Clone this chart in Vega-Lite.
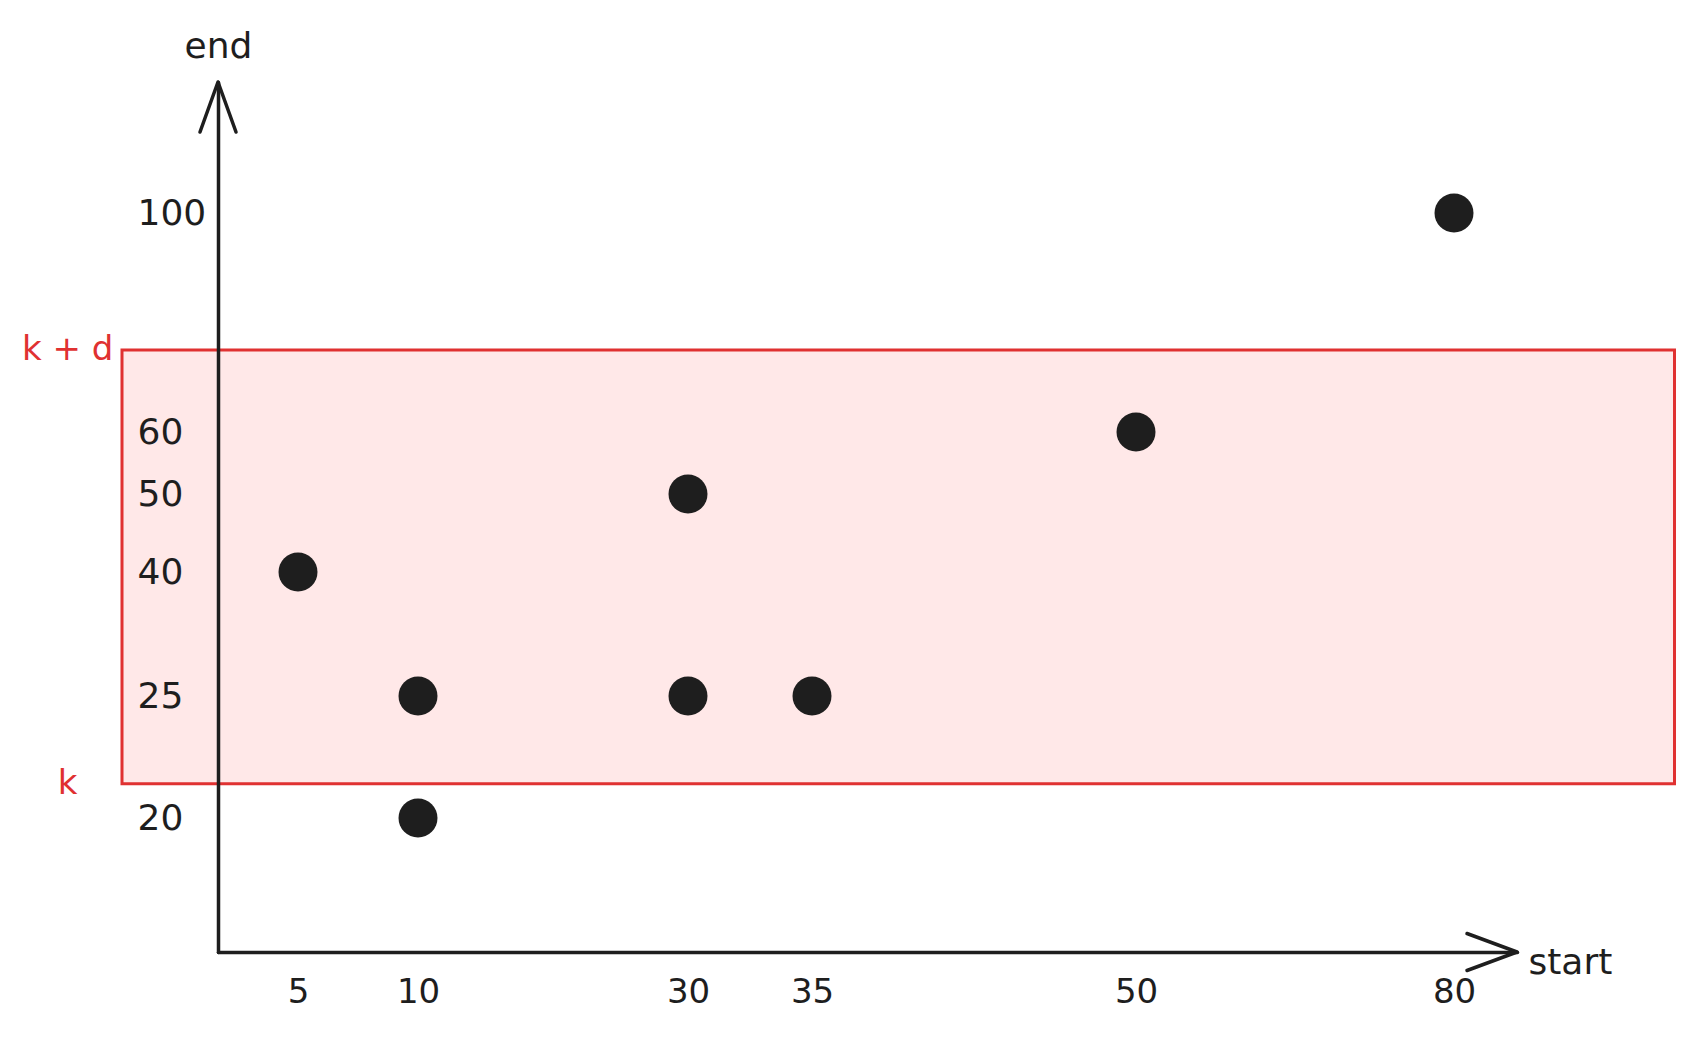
{
  "$schema": "https://vega.github.io/schema/vega-lite/v6.json",
  "width": 1299,
  "height": 870,
  "autosize": {"type": "none"},
  "padding": {"left": 218, "top": 82, "right": 176, "bottom": 88},
  "background": "white",
  "config": {"view": {"stroke": null}, "font": "DejaVu Sans"},
  "encoding": {
    "x": {
      "field": "start",
      "type": "quantitative",
      "scale": {"domain": [0, 5, 10, 30, 35, 50, 80, 86], "range": [0, 80, 200, 470, 594, 918, 1236, 1299], "nice": false, "zero": false, "clamp": false},
      "axis": {
        "values": [5, 10, 30, 35, 50, 80],
        "ticks": false, "tickSize": 0, "grid": false,
        "labelPadding": 40, "labelBaseline": "middle", "labelFontSize": 34, "labelColor": "#1e1e1e",
        "labelOverlap": false, "labelFlush": false, "labelBound": false,
        "title": "start", "titleAngle": 0, "titleX": 1310, "titleY": 10, "titleAlign": "left", "titleBaseline": "middle",
        "titleFontSize": 36, "titleFontWeight": "normal", "titleColor": "#1e1e1e",
        "domainColor": "#1e1e1e", "domainWidth": 3.5, "domainCap": "round", "zindex": 1
      }
    },
    "y": {
      "field": "end",
      "type": "quantitative",
      "scale": {"domain": [0, 20, 25, 40, 50, 60, 100, 120], "range": [870, 736, 614, 490, 412, 350, 131, 0], "nice": false, "zero": false, "clamp": false},
      "axis": {
        "values": [20, 25, 40, 50, 60, 100],
        "ticks": false, "tickSize": 0, "grid": false,
        "labelPadding": 81, "labelAlign": "left", "labelBaseline": "middle", "labelFontSize": 36, "labelColor": "#1e1e1e",
        "labelOverlap": false, "labelFlush": false, "labelBound": false,
        "title": "end", "titleAngle": 0, "titleX": 0, "titleY": -25, "titleAlign": "center", "titleBaseline": "alphabetic",
        "titleFontSize": 36, "titleFontWeight": "normal", "titleColor": "#1e1e1e",
        "domainColor": "#1e1e1e", "domainWidth": 3.5, "domainCap": "round", "zindex": 1
      }
    }
  },
  "layer": [
    {
      "data": {"values": [{"start": -6, "start2": 101, "end": 21.4, "end2": 75}]},
      "mark": {"type": "rect", "fill": "#ffc9c9", "fillOpacity": 0.42, "stroke": "#e03131", "strokeWidth": 3, "clip": false},
      "encoding": {"x2": {"field": "start2"}, "y2": {"field": "end2"}}
    },
    {
      "data": {"values": [
        {"start": 5, "end": 40},
        {"start": 10, "end": 25},
        {"start": 10, "end": 20},
        {"start": 30, "end": 50},
        {"start": 30, "end": 25},
        {"start": 35, "end": 25},
        {"start": 50, "end": 60},
        {"start": 80, "end": 100}
      ]},
      "mark": {"type": "circle", "size": 1520, "color": "#1e1e1e", "opacity": 1, "clip": false}
    },
    {
      "data": {"values": [{"start": 0, "end": 120}]},
      "mark": {"type": "point", "shape": "M-0.36,1L0,0L0.36,1", "size": 10000, "filled": false, "stroke": "#1e1e1e", "strokeWidth": 3.5, "strokeCap": "round", "strokeJoin": "round", "opacity": 1, "clip": false}
    },
    {
      "data": {"values": [{"start": 86, "end": 0}]},
      "mark": {"type": "point", "shape": "M-1,-0.37L0,0L-1,0.37", "size": 10000, "filled": false, "stroke": "#1e1e1e", "strokeWidth": 3.5, "strokeCap": "round", "strokeJoin": "round", "opacity": 1, "clip": false}
    },
    {
      "data": {"values": [{"start": -9.4, "end": 21.4, "label": "k"}, {"start": -9.4, "end": 75, "label": "k + d"}]},
      "mark": {"type": "text", "align": "center", "baseline": "middle", "fontSize": 34, "color": "#e03131", "clip": false},
      "encoding": {"text": {"field": "label"}}
    }
  ]
}
